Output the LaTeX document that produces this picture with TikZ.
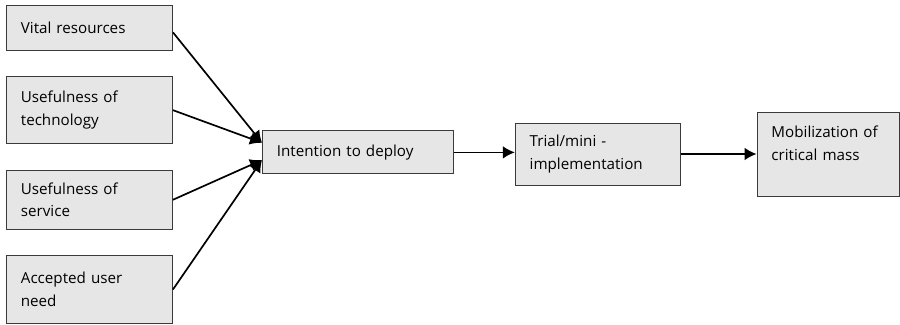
\documentclass[tikz,border=0pt]{standalone}
\usepackage{fontspec}
\setmainfont{Open Sans}
\usepackage{tikz}
\usetikzlibrary{arrows.meta,positioning,calc}
\definecolor{boxfill}{HTML}{E6E6E6}
\definecolor{boxline}{HTML}{3A3A3A}

\begin{document}
\begin{tikzpicture}[
    fac/.style={draw=boxline, fill=boxfill, line width=0.7pt, inner xsep=3.6mm, inner ysep=1mm,
                text width=3.43cm, align=left, anchor=north west,
                font=\fontsize{10.8}{16.3}\selectfont},
    stage/.style={fac, anchor=west},
    arr/.style={-{Latex[length=3mm, width=3.2mm]}, line width=1.2pt, black}]
    \useasboundingbox (0,0) rectangle (22.5,-8.125);
    \node[fac, minimum height=1.125cm] (vital) at (0.15,-0.125) {Vital resources};
    \node[fac, minimum height=1.675cm, below=6.3mm of vital] (tech) {Usefulness of\\technology};
    \node[fac, minimum height=1.475cm, below=6.4mm of tech] (serv) {Usefulness of\\service};
    \node[fac, minimum height=1.7cm, below=6.3mm of serv] (need) {Accepted user\\need};
    \node[stage, text width=4.05cm, minimum height=1.075cm] (deploy) at (6.55,-3.81) {Intention to deploy};
    \node[stage, text width=3.4cm, minimum height=1.55cm, right=1.525cm of deploy, yshift=-0.4mm] (trial)
      {Trial/mini -\\implementation};
    \node[stage, text width=2.83cm, minimum height=2.1cm, right=1.9cm of trial, yshift=-0.2mm] (mass)
      {Mobilization of\\critical mass\\\mbox{}};
    \coordinate (in1) at ([yshift=2.4mm]deploy.west);
    \coordinate (in2) at ([yshift=-1.9mm]deploy.west);
    \draw[arr] ([yshift=-1.1mm]vital.east) -- (in1);
    \draw[arr] (tech.east) -- (in1);
    \draw[arr] (serv.east) -- (in2);
    \draw[arr] (need.east) -- (in2);
    \draw[arr] (deploy) -- (deploy -| trial.west);
    \draw[arr] (trial) -- (trial -| mass.west);
  \end{tikzpicture}
\end{document}
